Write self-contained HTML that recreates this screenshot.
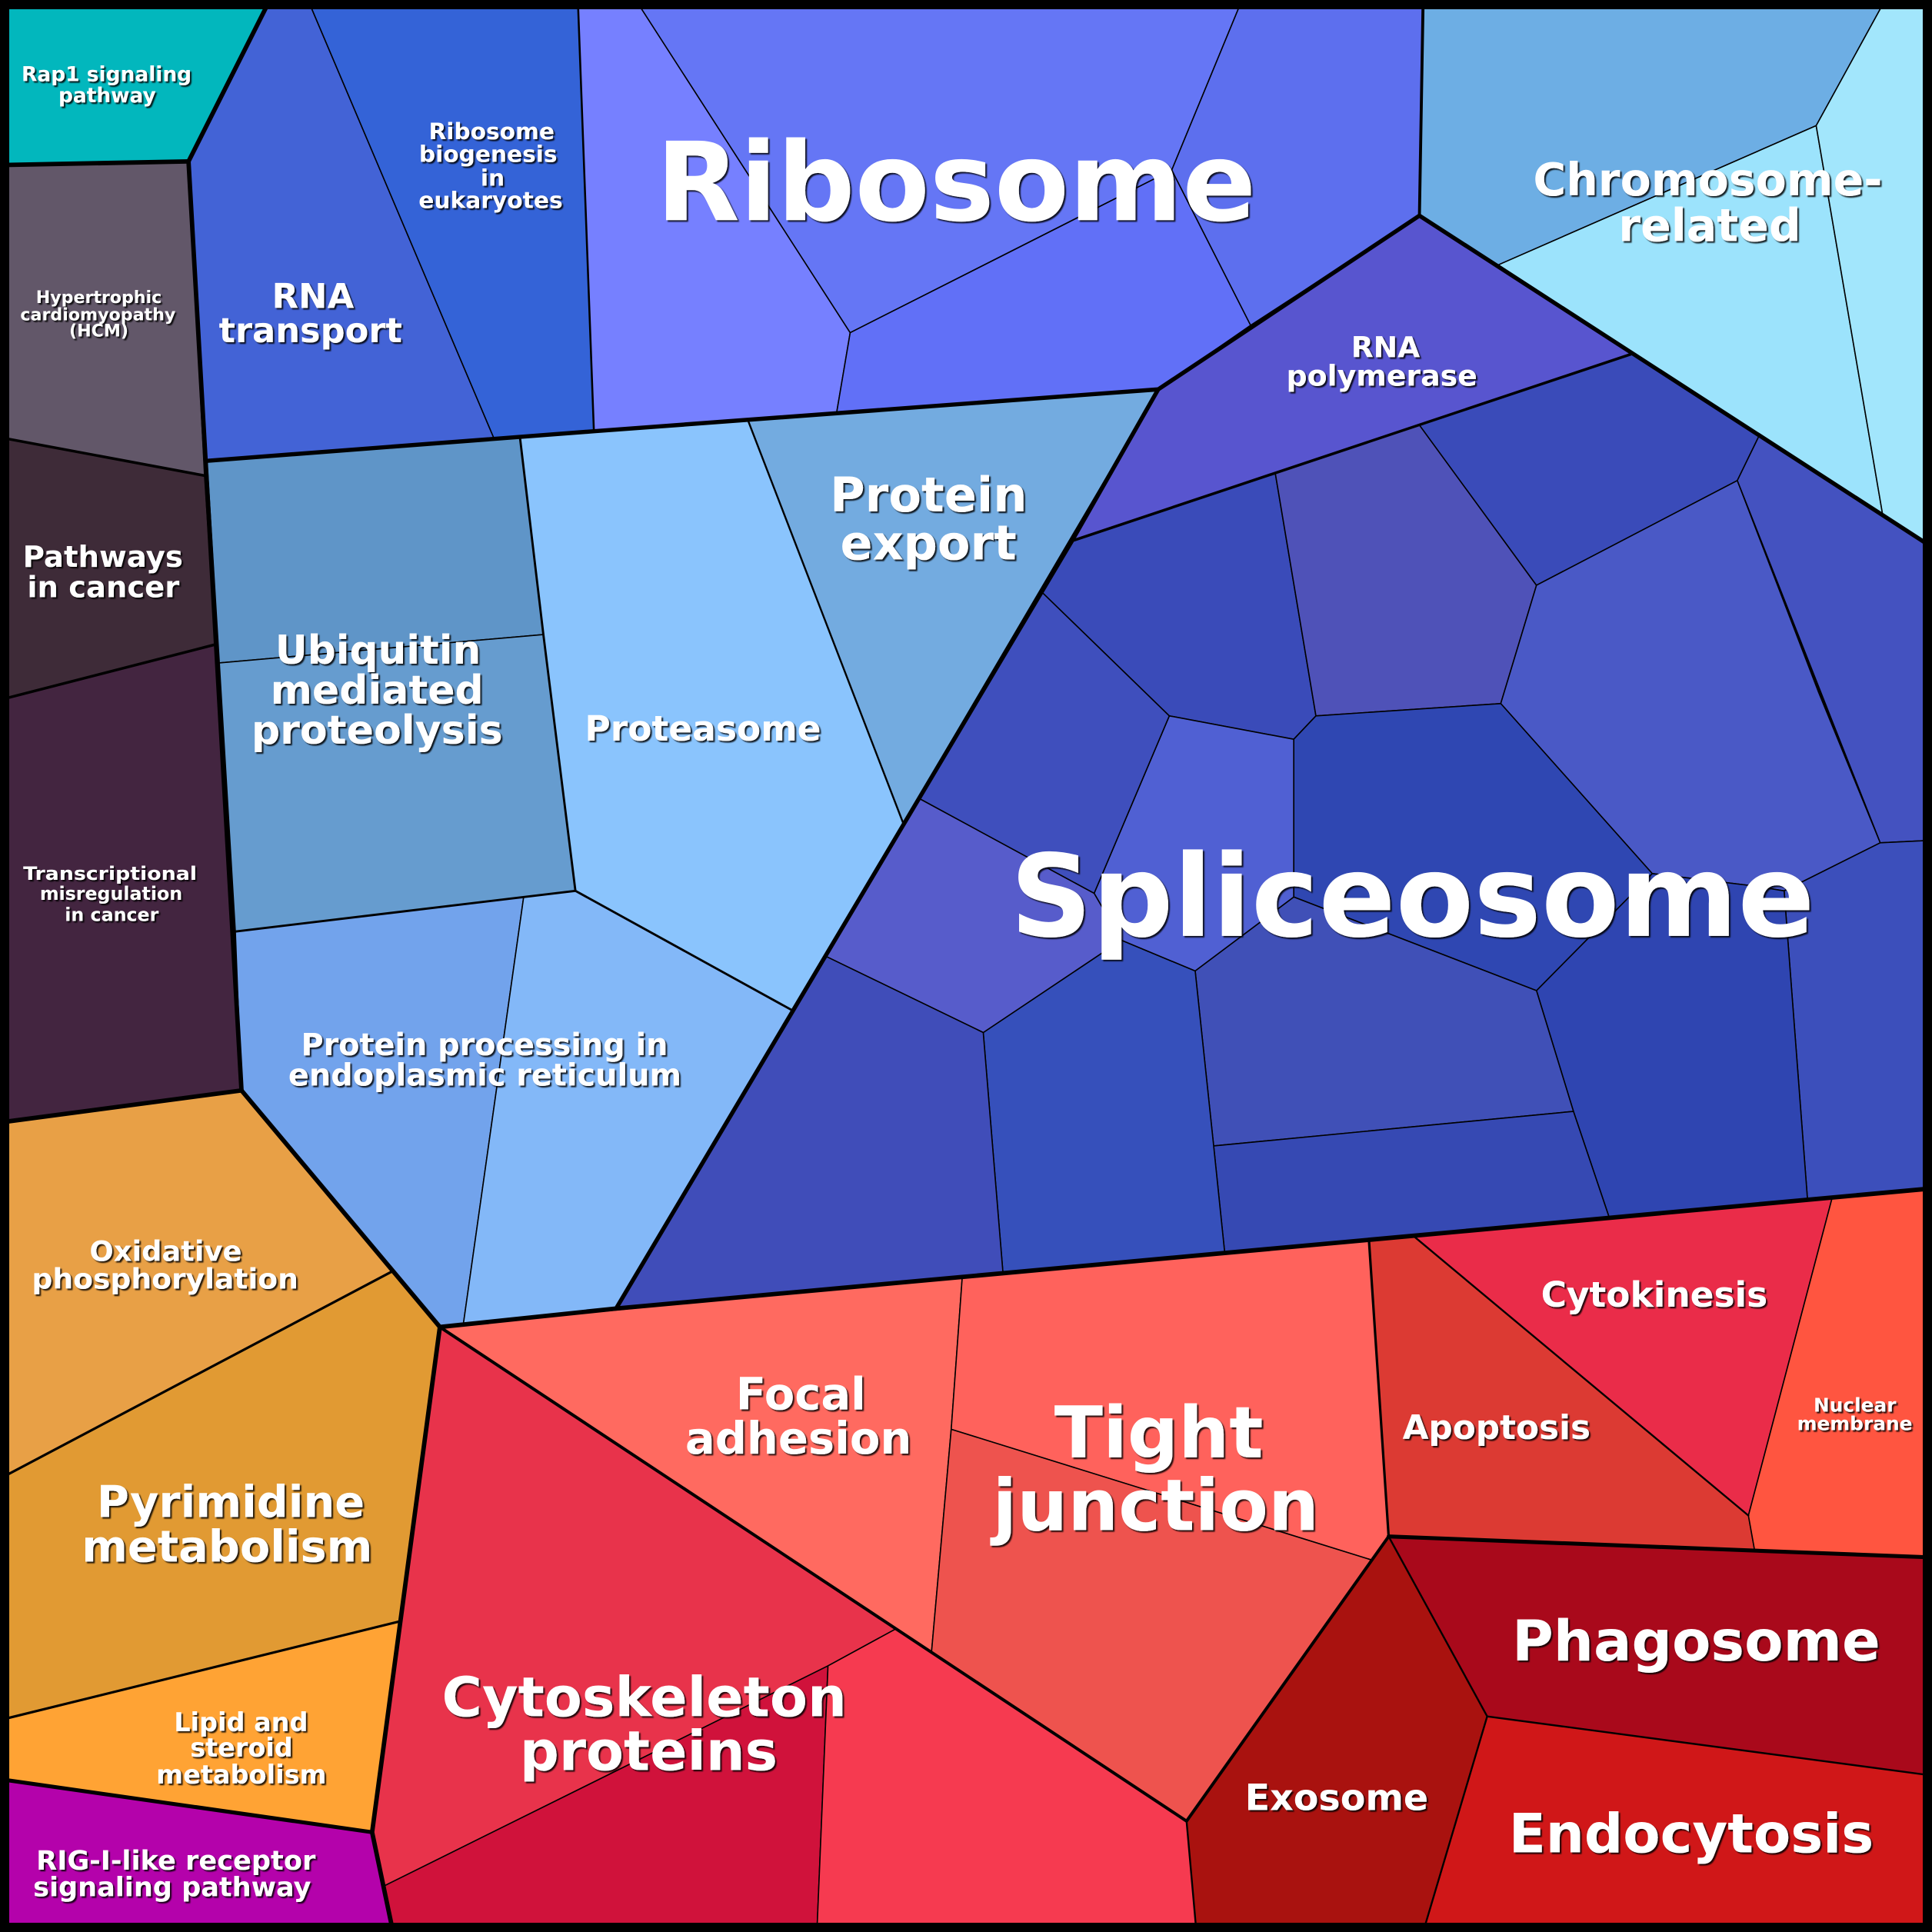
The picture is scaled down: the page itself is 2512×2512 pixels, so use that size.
<!DOCTYPE html>
<html><head><meta charset="utf-8"><style>
html,body{margin:0;padding:0;background:#000;}
svg{display:block;}
text{font-family:"DejaVu Sans","Liberation Sans",sans-serif;font-weight:bold;fill:#fff;text-anchor:middle;}
</style></head><body>
<svg xmlns="http://www.w3.org/2000/svg" width="2512" height="2512" viewBox="0 0 1568 1568">
<defs><filter id="sh" x="-5%" y="-20%" width="110%" height="140%"><feDropShadow dx="1.3" dy="1.3" stdDeviation="0.5" flood-color="#000" flood-opacity="0.85"/></filter></defs>
<g stroke="#000" stroke-width="1" stroke-linejoin="round">
<polygon fill="#02b7bd" points="0,0 219,0 153,131 0,134"/>
<polygon fill="#625769" points="0,134 153,131 166,386 0,355"/>
<polygon fill="#3e2b38" points="0,355 166,386 175,523 0,568"/>
<polygon fill="#432540" points="0,568 175,523 196,885 0,911"/>
<polygon fill="#4363d6" points="153,131 219,0 250,0 401,356 168,374"/>
<polygon fill="#3463d7" points="250,0 469,0 482,350 401,356"/>
<polygon fill="#7680ff" points="469,0 516,0 690,270 679,335 482,350"/>
<polygon fill="#6576f5" points="516,0 1008,0 951,138 690,270"/>
<polygon fill="#6170f7" points="690,270 951,138 1015,264 940,316 679,335"/>
<polygon fill="#5d6fee" points="1008,0 1155,0 1152,175 1015,264 951,138"/>
<polygon fill="#6daee4" points="1155,0 1530,0 1474,102 1216,215 1152,175"/>
<polygon fill="#9ce3fc" points="1216,215 1474,102 1528,418"/>
<polygon fill="#a2e6fc" points="1530,0 1568,0 1568,444 1528,418 1474,102"/>
<polygon fill="#5855cf" points="940,316 1152,175 1325,287 870,439"/>
<polygon fill="#73abe0" points="607,341 940,316 733,668"/>
<polygon fill="#8ac4fd" points="422,355 607,341 733,668 643,820 467,723 441,515"/>
<polygon fill="#5f95c8" points="168,374 422,355 441,515 178,538"/>
<polygon fill="#669ccf" points="178,538 441,515 467,723 191,756"/>
<polygon fill="#72a3ec" points="191,756 425,728 376,1075 357,1077 196,885"/>
<polygon fill="#83b8f8" points="425,728 467,723 643,820 500,1062 376,1075"/>
<polygon fill="#e8a046" points="0,911 196,885 318,1032 0,1200"/>
<polygon fill="#e19a33" points="0,1200 318,1032 357,1077 324,1316 0,1396"/>
<polygon fill="#ffa334" points="0,1396 324,1316 302,1487 0,1444"/>
<polygon fill="#b402ab" points="0,1444 302,1487 319,1568 0,1568"/>
<polygon fill="#e8334b" points="357,1077 727,1322 672,1352 311,1531 302,1487"/>
<polygon fill="#d0123b" points="311,1531 672,1352 663,1568 319,1568"/>
<polygon fill="#f63a50" points="672,1352 727,1322 963,1478 971,1568 663,1568"/>
<polygon fill="#ff6a60" points="357,1077 781,1036 772,1160 756,1341 727,1322"/>
<polygon fill="#ff625c" points="781,1036 1111,1006 1127,1247 1113,1266 772,1160"/>
<polygon fill="#ee534e" points="772,1160 1113,1266 963,1478 756,1341"/>
<polygon fill="#dc3a33" points="1111,1006 1147,1003 1419,1230 1424,1258 1127,1247"/>
<polygon fill="#ea2c49" points="1147,1003 1487,972 1419,1230"/>
<polygon fill="#ff5540" points="1487,972 1568,964 1568,1264 1424,1258 1419,1230"/>
<polygon fill="#a9091b" points="1127,1247 1568,1264 1568,1441 1207,1393"/>
<polygon fill="#a9120f" points="1127,1247 1207,1393 1155,1568 971,1568 963,1478"/>
<polygon fill="#d01718" points="1207,1393 1568,1441 1568,1568 1155,1568"/>
<!-- Spliceosome -->
<polygon fill="#3a4bb9" points="870,439 1035,384 1068,581 1050,600 949,581 846,481"/>
<polygon fill="#4f52b8" points="1035,384 1152,345 1247,475 1218,571 1068,581"/>
<polygon fill="#3a4bb9" points="1152,345 1325,287 1428,353 1410,390 1247,475"/>
<polygon fill="#4a59c6" points="1247,475 1410,390 1476,562 1526,684 1448,723 1423,719 1341,709 1218,571"/>
<polygon fill="#4452c0" points="1428,353 1568,444 1568,682 1526,684 1410,390"/>
<polygon fill="#3c4fbb" points="1526,684 1568,682 1568,965 1467,974 1448,723"/>
<polygon fill="#2f47b2" points="1068,581 1218,571 1341,709 1247,804 1050,728 1050,600"/>
<polygon fill="#2f45b1" points="1247,804 1341,709 1423,719 1448,723 1467,974 1306,988 1277,902"/>
<polygon fill="#4050b7" points="1050,728 1247,804 1277,902 985,930 970,788"/>
<polygon fill="#3649b3" points="985,930 1277,902 1306,988 994,1017"/>
<polygon fill="#3650bb" points="798,838 910,763 970,788 985,930 994,1017 814,1033"/>
<polygon fill="#5060d3" points="949,581 1050,600 1050,728 970,788 910,763 888,725"/>
<polygon fill="#575ccb" points="746,648 888,725 910,763 798,838 670,776"/>
<polygon fill="#3f4fbd" points="846,481 949,581 888,725 746,648"/>
<polygon fill="#404db9" points="670,776 798,838 814,1033 500,1062"/>
</g>
<g fill="none" stroke="#000" stroke-linejoin="round" stroke-linecap="round">
<polyline stroke-width="3.6" points="219,0 153,131 196,885"/>
<polyline stroke-width="3.6" points="0,134 153,131"/>
<polyline stroke-width="3.4" points="168,374 482,350 940,316 1152,175 1568,444"/>
<polyline stroke-width="2.4" points="1155,0 1152,175"/>
<polyline stroke-width="3.4" points="940,316 870,439 500,1062"/>
<polyline stroke-width="3.6" points="196,885 357,1077 500,1062 1568,964.5"/>
<polyline stroke-width="3.6" points="0,911 196,885"/>
<polyline stroke-width="3.6" points="357,1077 302,1487 319,1568"/>
<polyline stroke-width="3.2" points="0,1444 302,1487"/>
<polyline stroke-width="3.2" points="1127,1247 1568,1264"/>
<polyline stroke-width="2.2" points="0,355 166,386"/>
<polyline stroke-width="2.2" points="0,568 175,523"/>
<polyline stroke-width="1.6" points="469,0 482,350"/>
<polyline stroke-width="2.2" points="870,439 1325,287"/>
<polyline stroke-width="1.5" points="607,341 733,668"/>
<polyline stroke-width="1.8" points="422,355 441,515 467,723 643,820"/>
<polyline stroke-width="1.8" points="191,756 467,723"/>
<polyline stroke-width="2" points="0,1200 318,1032"/>
<polyline stroke-width="2" points="0,1396 324,1316"/>
<polyline stroke-width="2.5" points="357,1077 963,1478 1127,1247"/>
<polyline stroke-width="2" points="1111,1006 1127,1247"/>
<polyline stroke-width="1.5" points="963,1478 971,1568"/>
<polyline stroke-width="1.5" points="1127,1247 1207,1393 1155,1568"/>
<polyline stroke-width="1.5" points="1207,1393 1568,1441"/>
<polyline stroke-width="1.5" points="1147,1003 1419,1230"/>
</g>
<rect x="0" y="0" width="1568" height="1568" fill="none" stroke="#000" stroke-width="15"/>
<g filter="url(#sh)">
<text x="86.5" y="66" font-size="16.5" textLength="138" lengthAdjust="spacingAndGlyphs">Rap1 signaling</text>
<text x="87" y="83" font-size="16.5">pathway</text>
<text x="80.2" y="246" font-size="13.8" textLength="102" lengthAdjust="spacingAndGlyphs">Hypertrophic</text>
<text x="79.5" y="260" font-size="13.8" textLength="126" lengthAdjust="spacingAndGlyphs">cardiomyopathy</text>
<text x="80.2" y="273" font-size="13.8">(HCM)</text>
<text x="254" y="250" font-size="28">RNA</text>
<text x="252" y="277.7" font-size="28" textLength="148.7" lengthAdjust="spacingAndGlyphs">transport</text>
<text x="399" y="113" font-size="18.5">Ribosome</text>
<text x="396.2" y="131.5" font-size="18.5">biogenesis</text>
<text x="399.8" y="150.6" font-size="18.5">in</text>
<text x="398.2" y="169" font-size="18.5" textLength="117" lengthAdjust="spacingAndGlyphs">eukaryotes</text>
<text x="776" y="178.7" font-size="88.5" textLength="487" lengthAdjust="spacingAndGlyphs">Ribosome</text>
<text x="1386" y="158.7" font-size="36.5" textLength="283.5" lengthAdjust="spacingAndGlyphs">Chromosome-</text>
<text x="1387.6" y="195.6" font-size="36.5">related</text>
<text x="1124.5" y="290" font-size="23.5">RNA</text>
<text x="1121.5" y="313" font-size="23.5" textLength="155" lengthAdjust="spacingAndGlyphs">polymerase</text>
<text x="753.6" y="415" font-size="38.7" textLength="160" lengthAdjust="spacingAndGlyphs">Protein</text>
<text x="753.5" y="454" font-size="38.7">export</text>
<text x="306.8" y="538.6" font-size="32.5" textLength="167" lengthAdjust="spacingAndGlyphs">Ubiquitin</text>
<text x="306" y="571" font-size="32.5">mediated</text>
<text x="306" y="603.5" font-size="32.5" textLength="204" lengthAdjust="spacingAndGlyphs">proteolysis</text>
<text x="570.5" y="601" font-size="28.4" textLength="191.7" lengthAdjust="spacingAndGlyphs">Proteasome</text>
<text x="393.2" y="856.3" font-size="24.8" textLength="297.7" lengthAdjust="spacingAndGlyphs">Protein processing in</text>
<text x="393.5" y="881" font-size="24.8" textLength="319" lengthAdjust="spacingAndGlyphs">endoplasmic reticulum</text>
<text x="83.5" y="460" font-size="24" textLength="130" lengthAdjust="spacingAndGlyphs">Pathways</text>
<text x="83.8" y="484.7" font-size="24">in cancer</text>
<text x="89.3" y="714" font-size="14.8" textLength="141" lengthAdjust="spacingAndGlyphs">Transcriptional</text>
<text x="90.2" y="730.3" font-size="14.8">misregulation</text>
<text x="90.7" y="747.4" font-size="14.8">in cancer</text>
<text x="134.5" y="1023.5" font-size="23">Oxidative</text>
<text x="134" y="1046" font-size="23" textLength="216.3" lengthAdjust="spacingAndGlyphs">phosphorylation</text>
<text x="187.3" y="1231.3" font-size="35.8">Pyrimidine</text>
<text x="184.3" y="1267.6" font-size="35.8" textLength="236" lengthAdjust="spacingAndGlyphs">metabolism</text>
<text x="195.6" y="1405" font-size="20.9">Lipid and</text>
<text x="196" y="1425.6" font-size="20.9">steroid</text>
<text x="195.9" y="1447.5" font-size="20.9" textLength="138.2" lengthAdjust="spacingAndGlyphs">metabolism</text>
<text x="142.8" y="1517.5" font-size="21.9" textLength="226.7" lengthAdjust="spacingAndGlyphs">RIG-I-like receptor</text>
<text x="139.7" y="1539" font-size="21.9">signaling pathway</text>
<text x="522.9" y="1393" font-size="44.5" textLength="328.6" lengthAdjust="spacingAndGlyphs">Cytoskeleton</text>
<text x="526.5" y="1436.5" font-size="44.5">proteins</text>
<text x="650" y="1144" font-size="35.9">Focal</text>
<text x="648" y="1179.7" font-size="35.9" textLength="183.8" lengthAdjust="spacingAndGlyphs">adhesion</text>
<text x="940.5" y="1182.8" font-size="57.9">Tight</text>
<text x="938" y="1242" font-size="57.9" textLength="265" lengthAdjust="spacingAndGlyphs">junction</text>
<text x="1214.6" y="1168" font-size="27.3" textLength="152.6" lengthAdjust="spacingAndGlyphs">Apoptosis</text>
<text x="1342.6" y="1060.4" font-size="28.4" textLength="183.9" lengthAdjust="spacingAndGlyphs">Cytokinesis</text>
<text x="1505.4" y="1145.7" font-size="15.5">Nuclear</text>
<text x="1505.3" y="1160.6" font-size="15.5" textLength="93.6" lengthAdjust="spacingAndGlyphs">membrane</text>
<text x="1376.6" y="1347.8" font-size="45.8" textLength="298.8" lengthAdjust="spacingAndGlyphs">Phagosome</text>
<text x="1084.8" y="1469" font-size="29.6" textLength="148.9" lengthAdjust="spacingAndGlyphs">Exosome</text>
<text x="1372.6" y="1503.5" font-size="43.9" textLength="296.2" lengthAdjust="spacingAndGlyphs">Endocytosis</text>
<text x="1146.4" y="759.6" font-size="92.5" textLength="653" lengthAdjust="spacingAndGlyphs">Spliceosome</text>
</g>
</svg>
</body></html>
